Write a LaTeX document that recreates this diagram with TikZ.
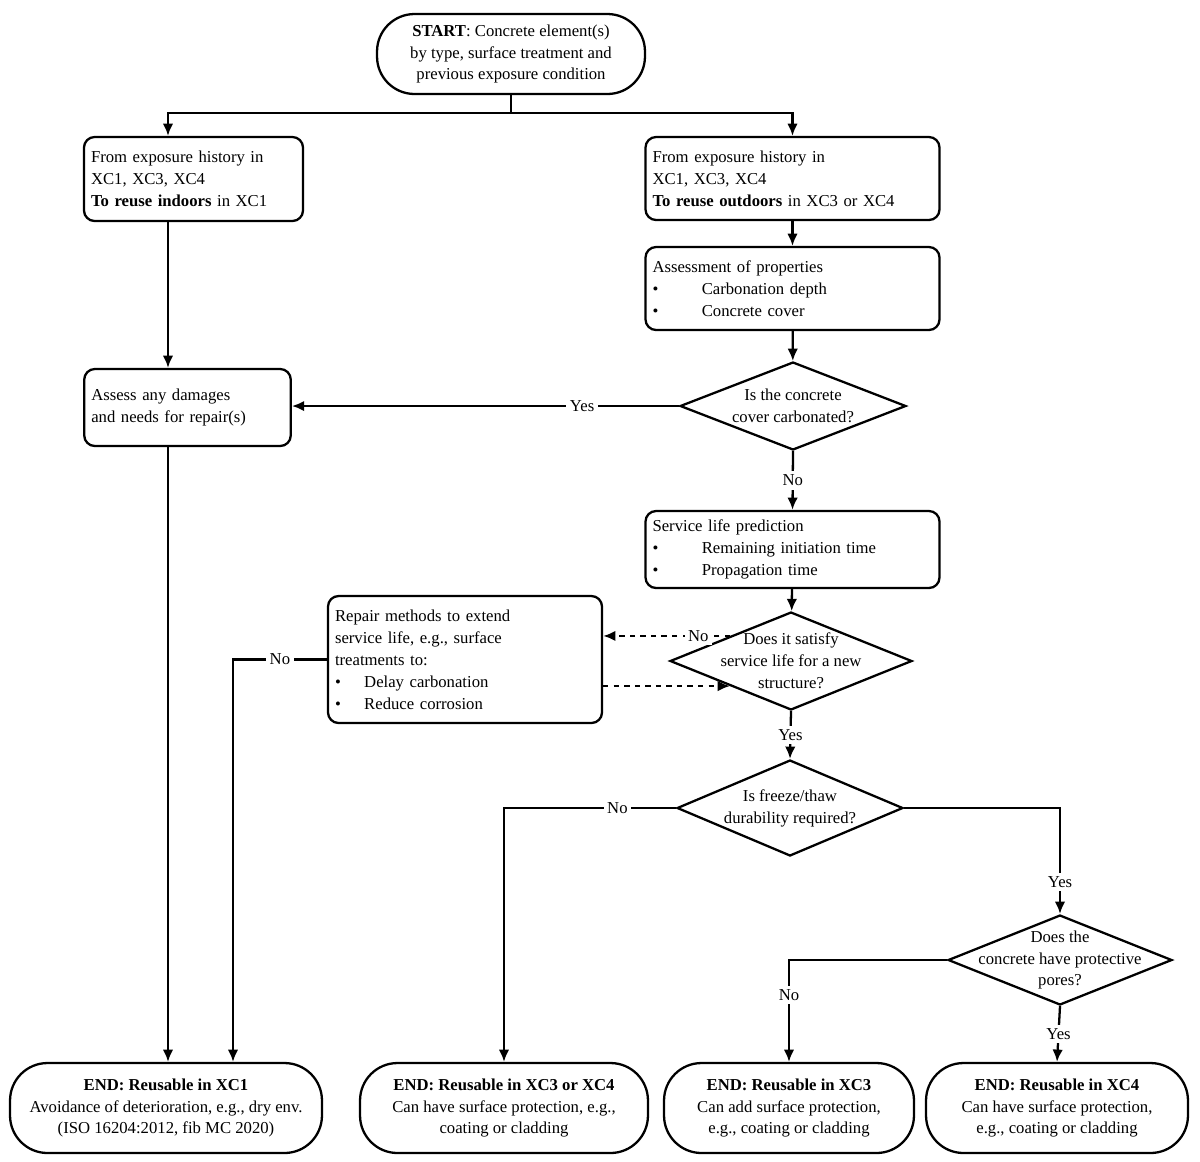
\documentclass[tikz,border=0pt]{standalone}
\usepackage{fontspec}
\setmainfont{Liberation Serif}
\usetikzlibrary{shapes.geometric,arrows.meta}
\tikzset{
  box/.style={draw,line width=1.3pt,rounded corners=6pt,align=left,inner sep=4pt,font=\fontsize{9.5}{12.5}\selectfont},
  term/.style={draw,line width=1.3pt,rounded corners=0.75cm,align=center,minimum height=1.8cm,font=\fontsize{9.5}{12.5}\selectfont},
  dia/.style={draw,diamond,line width=1.3pt,inner sep=0pt},
  dtxt/.style={align=center,font=\fontsize{9.5}{12.5}\selectfont},
  arr/.style={-{Latex[length=7pt,width=6pt]},line width=1.3pt},
  lab/.style={fill=white,inner sep=2pt,font=\fontsize{9.5}{12}\selectfont}
}
\newcommand{\itm}[1]{\textbullet\hspace{2.6em}#1}
\newcommand{\itmr}[1]{\textbullet\hspace{1.4em}#1}
\begin{document}
\begin{tikzpicture}[x=0.02cm,y=-0.02cm]
\useasboundingbox (0,0) rectangle (1200,1161);

\node[term,minimum width=5.36cm,minimum height=1.6cm] (start) at (511,54)
  {\textbf{START}: Concrete element(s)\\by type, surface treatment and\\previous exposure condition};
\node[box,text width=4.1cm,minimum height=1.68cm] (l1) at (193.5,179)
  {From exposure history in\\XC1, XC3, XC4\\\textbf{To reuse indoors} in XC1};
\node[box,text width=5.6cm,minimum height=1.66cm] (r1) at (792.5,178.5)
  {From exposure history in\\XC1, XC3, XC4\\\textbf{To reuse outdoors} in XC3 or XC4};
\node[box,text width=5.6cm,minimum height=1.66cm] (asp) at (792.5,288.5)
  {Assessment of properties\\\itm{Carbonation depth}\\\itm{Concrete cover}};
\node[dia,minimum width=4.52cm,minimum height=1.76cm] (d1) at (793,406) {};
\node[dtxt] at (d1) {Is the concrete\\cover carbonated?};
\node[box,text width=3.85cm,minimum height=1.54cm] (dmg) at (187.5,407.5)
  {Assess any damages\\and needs for repair(s)};
\node[box,text width=5.6cm,minimum height=1.54cm] (slp) at (792.5,549.5)
  {Service life prediction\\\itm{Remaining initiation time}\\\itm{Propagation time}};
\node[dia,minimum width=4.84cm,minimum height=1.96cm] (d2) at (791,661) {};
\node[dtxt] at (d2) {Does it satisfy\\service life for a new\\structure?};
\node[box,text width=5.2cm,minimum height=2.54cm] (rep) at (465,659.5)
  {Repair methods to extend\\service life, e.g., surface\\treatments to:\\\itmr{Delay carbonation}\\\itmr{Reduce corrosion}};
\node[dia,minimum width=4.52cm,minimum height=1.92cm] (d3) at (790,808) {};
\node[dtxt] at (d3) {Is freeze/thaw\\durability required?};
\node[dia,minimum width=4.48cm,minimum height=1.8cm] (d4) at (1060,960) {};
\node[dtxt] at (d4) {Does the\\concrete have protective\\pores?};

\node[term,minimum width=6.24cm] (e1) at (166,1108)
  {\textbf{END: Reusable in XC1}\\Avoidance of deterioration, e.g., dry env.\\(ISO 16204:2012, fib MC 2020)};
\node[term,minimum width=5.76cm] (e2) at (504,1108)
  {\textbf{END: Reusable in XC3 or XC4}\\Can have surface protection, e.g.,\\coating or cladding};
\node[term,minimum width=5.0cm] (e3) at (789,1108)
  {\textbf{END: Reusable in XC3}\\Can add surface protection,\\e.g., coating or cladding};
\node[term,minimum width=5.24cm] (e4) at (1057,1108)
  {\textbf{END: Reusable in XC4}\\Can have surface protection,\\e.g., coating or cladding};

\coordinate (cl) at (168,0);
\coordinate (cr) at (233,0);

% connectors
\draw[line width=1.3pt] (start.south) -- ++(0,18) coordinate (sp);
\draw[arr] (sp) -| (cl |- l1.north);
\draw[arr] (sp) -| (r1.north);
\draw[arr] (l1.south -| cl) -- (cl |- dmg.north);
\draw[arr] (dmg.south -| cl) -- (cl |- e1.north);
\draw[arr] (r1) -- (asp);
\draw[arr] (asp) -- (d1);
\draw[arr] (d1.west) -- node[lab,pos=.25]{Yes} (d1.west -| dmg.east);
\draw[arr] (d1.south) -- node[lab]{No} (slp.north);
\draw[arr] (slp) -- (d2);
\draw[arr,dashed] (d2.north west) -- node[lab,pos=.25]{No} (d2.north west -| rep.east);
\draw[arr,dashed] (rep.east |- d2.south west) -- (d2.south west);
\draw[arr] (rep.west) -| node[lab,pos=.25]{No} (cr |- e1.north);
\draw[arr] (d2.south) -- node[lab]{Yes} (d3.north);
\draw[arr] (d3.west) -| node[lab,pos=.17]{No} (e2.north);
\draw[arr] (d3.east) -| node[lab,pos=.85]{Yes} (d4.north);
\draw[arr] (d4.west) -| node[lab,pos=.67]{No} (e3.north);
\draw[arr] (d4.south) -- node[lab]{Yes} (e4.north);

\end{tikzpicture}
\end{document}
